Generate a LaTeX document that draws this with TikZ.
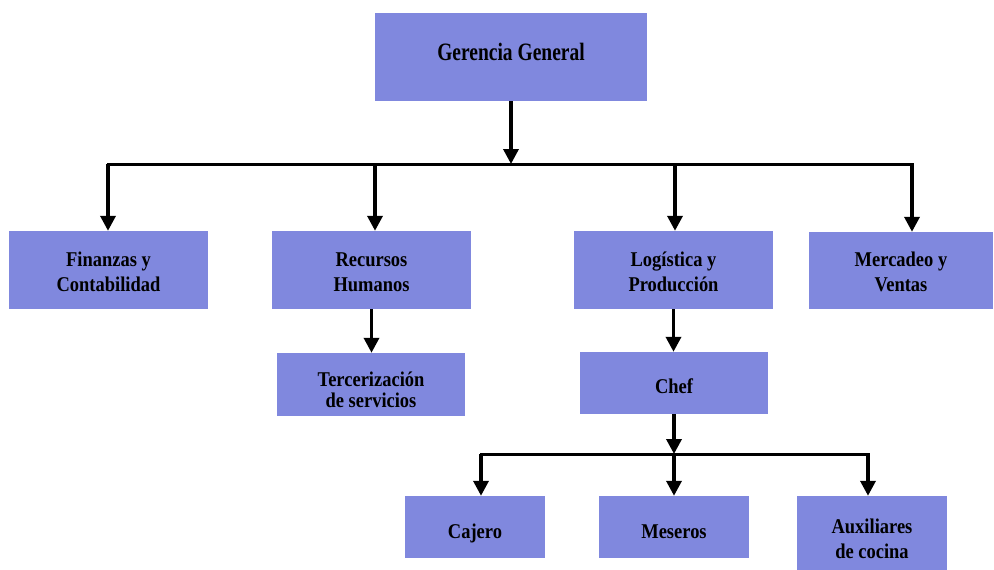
\documentclass[tikz,border=0pt]{standalone}
\usepackage{fontspec}
\newfontfamily\cajafont[FakeStretch=0.88]{Liberation Serif}
\newfontfamily\titulofont[FakeStretch=0.78]{Liberation Serif}
\usetikzlibrary{arrows.meta}
\definecolor{azulcaja}{RGB}{128,136,222}
\tikzset{
 caja/.style={fill=azulcaja,draw=none,align=center,inner sep=0pt,text depth=0pt,
  font=\cajafont\bfseries\fontsize{21}{25}\selectfont},
 flecha/.style={line width=3.5pt,-{Triangle[length=15pt,width=15pt]}},
 barra/.style={line width=3pt,line cap=rect}
}
\begin{document}
\begin{tikzpicture}[x=1pt,y=-1pt]
 \useasboundingbox (0,0) rectangle (994,570);
 \node[caja,minimum width=272,minimum height=88,text height=6pt,
  font=\titulofont\bfseries\fontsize{25}{25}\selectfont] (gg) at (511,57) {Gerencia General};
 \node[caja,minimum width=199,minimum height=78,text height=42pt] (fin) at (108.5,270) {Finanzas y\\Contabilidad};
 \node[caja,minimum width=199,minimum height=78,text height=42pt] (rh) at (371.5,270) {Recursos\\Humanos};
 \node[caja,minimum width=199,minimum height=78,text height=42pt] (log) at (673.5,270) {Log\'istica y\\Producci\'on};
 \node[caja,minimum width=184,minimum height=77,text height=42pt] (mer) at (901,270.5) {Mercadeo y\\Ventas};
 \node[caja,minimum width=188,minimum height=63,text height=45.6pt,
  font=\cajafont\bfseries\fontsize{21}{21}\selectfont] (ter) at (371,384.5) {Tercerizaci\'on\\de servicios};
 \node[caja,minimum width=188,minimum height=62,text height=20pt] (chef) at (674,383) {Chef};
 \node[caja,minimum width=140,minimum height=62,text height=22.6pt] (caj) at (475,527) {Cajero};
 \node[caja,minimum width=150,minimum height=62,text height=22.6pt] (mes) at (674,527) {Meseros};
 \node[caja,minimum width=150,minimum height=74,text height=50.6pt] (aux) at (872,533) {Auxiliares\\de cocina};
 \coordinate (b1) at (511,164); \coordinate (b2) at (674,454);
 \draw[flecha] (gg.south) -- (b1);
 \draw[barra] (108,164) coordinate (b1a) -- (912,164) coordinate (b1b);
 \draw[flecha] (b1a) -- (b1a |- fin.north);
 \draw[flecha] (375,164) coordinate (b1r) -- (b1r |- rh.north);
 \draw[flecha] (675,164) coordinate (b1l) -- (b1l |- log.north);
 \draw[flecha] (b1b) -- (b1b |- mer.north);
 \draw[flecha] (rh.south) -- (rh.south |- ter.north);
 \draw[flecha] (log.south) -- (log.south |- chef.north);
 \draw[flecha] (chef.south) -- (b2);
 \draw[barra] (481,454) coordinate (b2a) -- (868,454) coordinate (b2b);
 \draw[flecha] (b2a) -- (b2a |- caj.north);
 \draw[flecha] (b2) -- (mes.north);
 \draw[flecha] (b2b) -- (b2b |- aux.north);
\end{tikzpicture}
\end{document}
